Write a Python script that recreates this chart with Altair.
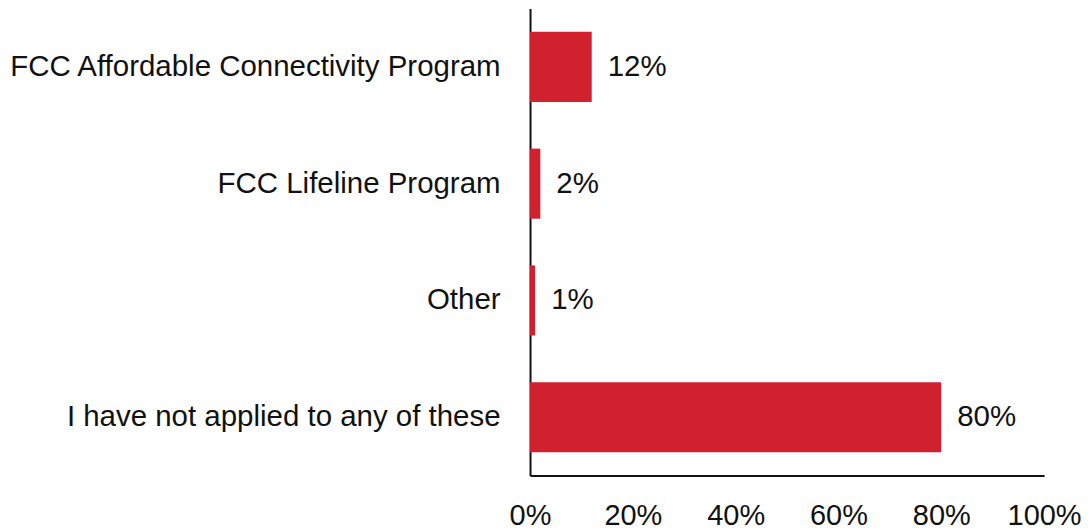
import altair as alt
import pandas as pd

categories = [
    "FCC Affordable Connectivity Program",
    "FCC Lifeline Program",
    "Other",
    "I have not applied to any of these",
]
values = [12, 2, 1, 80]
labels = ["12%", "2%", "1%", "80%"]

df = pd.DataFrame({"cat": categories, "val": values, "lab": labels})

FONT = "Liberation Sans"

y_enc = alt.Y(
    "cat:N",
    sort=categories,
    title=None,
    scale=alt.Scale(paddingInner=0.4, paddingOuter=0.2),
    axis=alt.Axis(
        ticks=False,
        domain=True,
        domainColor="#111111",
        domainWidth=2,
        labelFont=FONT,
        labelFontSize=29.5,
        labelColor="#111111",
        labelPadding=30,
        labelLimit=600,
        minExtent=522,
        maxExtent=522,
    ),
)

x_enc = alt.X(
    "val:Q",
    title=None,
    scale=alt.Scale(domain=[0, 100], nice=False),
    axis=alt.Axis(
        values=[0, 20, 40, 60, 80, 100],
        labelExpr="datum.value + '%'",
        ticks=False,
        grid=False,
        domain=True,
        domainColor="#111111",
        domainWidth=2,
        labelFont=FONT,
        labelFontSize=29,
        labelColor="#111111",
        labelPadding=26,
        labelFlush=False,
    ),
)

bars = alt.Chart(df).mark_bar(color="#d1202e").encode(x=x_enc, y=y_enc)

text = alt.Chart(df).mark_text(
    align="left", baseline="middle", dx=16, font=FONT, fontSize=29.5, color="#111111"
).encode(x=alt.X("val:Q"), y=alt.Y("cat:N", sort=categories), text="lab:N")

chart = (
    alt.layer(bars, text)
    .properties(
        width=515,
        height=468,
        padding={"left": 0, "top": 0, "right": 0, "bottom": 0},
        background="white",
    )
    .configure_view(strokeWidth=0)
)

chart.save("out.html", embed_options={"renderer": "svg", "actions": False})
